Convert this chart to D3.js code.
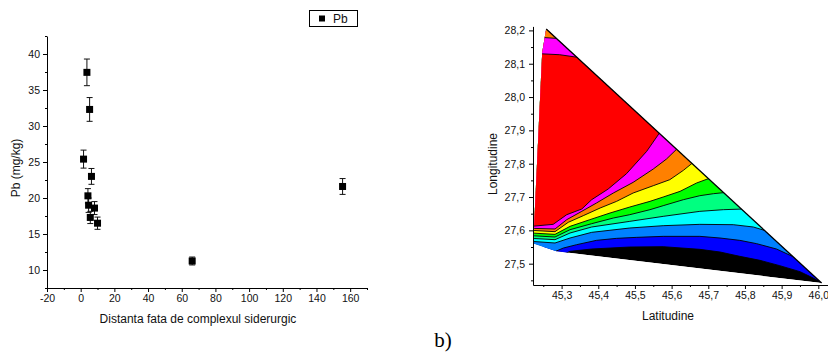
<!DOCTYPE html>
<html><head><meta charset="utf-8">
<script src="https://cdn.jsdelivr.net/npm/d3@7"></script>
<style>
body{margin:0;background:#fff;}
svg{display:block;font-family:"Liberation Sans",Arial,sans-serif;}
</style></head><body>
<svg id="c" width="828" height="354"></svg>
<script>
// ---- Panel a: Pb content vs. distance from the steelworks ----
const distance = [3.7, 5.3, 1.7, 6.4, 4.3, 4.7, 8.2, 5.7, 10.0, 66.2, 155.5];
const pb       = [37.45, 32.3, 25.4, 23.0, 20.3, 19.0, 18.6, 17.3, 16.5, 11.25, 21.6];
const pbErr    = [1.85, 1.65, 1.25, 1.1, 1.0, 1.0, 0.9, 0.85, 0.85, 0.55, 1.1];
const pbXTicks = [-20, 0, 20, 40, 60, 80, 100, 120, 140, 160];
const pbYTicks = [10, 15, 20, 25, 30, 35, 40];

// ---- Panel b: interpolated map, sampled area and isoline boundaries [lat, lon] ----
const hull = [[45.258, 28.204], [45.247, 28.132], [45.225, 27.612], [45.225, 27.560],
              [45.286, 27.537], [46.009, 27.442]];
const lineBlueBlack = [[45.309, 27.530], [45.323, 27.537], [45.382, 27.544], [45.486, 27.550], [45.577, 27.551],
  [45.677, 27.543], [45.732, 27.535], [45.786, 27.522], [45.841, 27.510], [45.895, 27.494], [45.950, 27.476],
  [45.986, 27.457], [46.014, 27.439]];
const lineAzureBlue = [[45.277, 27.534], [45.305, 27.547], [45.341, 27.557], [45.395, 27.570], [45.450, 27.576],
  [45.505, 27.579], [45.577, 27.582], [45.677, 27.582], [45.732, 27.577], [45.786, 27.570], [45.832, 27.560],
  [45.886, 27.544], [45.941, 27.516]];
const lineCyanAzure = [[45.218, 27.567], [45.282, 27.562], [45.323, 27.577], [45.382, 27.594], [45.486, 27.607],
  [45.577, 27.614], [45.677, 27.618], [45.768, 27.617], [45.823, 27.610], [45.859, 27.598]];
const lineSpringCyan = [[45.218, 27.576], [45.282, 27.572], [45.323, 27.592], [45.382, 27.610], [45.486, 27.627],
  [45.577, 27.642], [45.677, 27.657], [45.741, 27.662], [45.795, 27.664]];
const lineGreenSpring = [[45.218, 27.584], [45.282, 27.580], [45.323, 27.602], [45.382, 27.620], [45.441, 27.637],
  [45.486, 27.647], [45.541, 27.662], [45.577, 27.674], [45.632, 27.692], [45.677, 27.704], [45.714, 27.710],
  [45.750, 27.714]];
const lineYellowGreen = [[45.218, 27.592], [45.282, 27.588], [45.323, 27.612], [45.377, 27.632], [45.432, 27.652],
  [45.486, 27.670], [45.541, 27.687], [45.577, 27.700], [45.623, 27.717], [45.668, 27.742], [45.705, 27.757]];
const lineOrangeYellow = [[45.218, 27.600], [45.282, 27.596], [45.318, 27.624], [45.359, 27.644], [45.405, 27.667],
  [45.450, 27.687], [45.495, 27.712], [45.550, 27.734], [45.595, 27.752], [45.632, 27.780], [45.659, 27.804]];
const lineMagentaOrange = [[45.218, 27.606], [45.282, 27.604], [45.314, 27.632], [45.355, 27.657], [45.395, 27.682],
  [45.441, 27.712], [45.495, 27.744], [45.550, 27.784], [45.586, 27.814], [45.618, 27.848]];
const lineRedMagenta = [[45.218, 27.612], [45.277, 27.618], [45.314, 27.647], [45.355, 27.664], [45.382, 27.692],
  [45.427, 27.724], [45.477, 27.770], [45.532, 27.837], [45.568, 27.894]];
const lineTopMagenta = [[45.241, 28.130], [45.295, 28.127], [45.345, 28.119]];
const lineTopOrange = [[45.245, 28.179], [45.288, 28.176]];

const baseColor = "#000000";
const isolines = [lineBlueBlack, lineAzureBlue, lineCyanAzure, lineSpringCyan, lineGreenSpring,
  lineYellowGreen, lineOrangeYellow, lineMagentaOrange, lineRedMagenta, lineTopMagenta, lineTopOrange];
// colour of the band lying above each isoline
const bandColors = ["#0000FF", "#0080FF", "#00FFFF", "#00FF80", "#00FF00",
  "#FFFF00", "#FF8000", "#FF00FF", "#FF0000", "#FF00FF", "#FF8000"];
const latTicks = [45.3, 45.4, 45.5, 45.6, 45.7, 45.8, 45.9, 46.0];
const lonTicks = [27.5, 27.6, 27.7, 27.8, 27.9, 28.0, 28.1, 28.2];

const svg = d3.select("#c");

function styleAxis(g, size) {
  g.attr("font-size", null).attr("font-family", null);
  g.selectAll("path.domain").attr("stroke", "#000").attr("stroke-width", 1);
  g.selectAll(".tick line").attr("stroke", "#000");
  g.selectAll("text").attr("font-size", size).attr("fill", "#111");
}

// ================= Panel a =================
const x1 = d3.scaleLinear().domain([-20, 170]).range([47, 367]);
const y1 = d3.scaleLinear().domain([7.5, 42.5]).range([288, 36]);
const plain = d => String(d);

const ax1 = svg.append("g").attr("transform", "translate(0,288)")
  .call(d3.axisBottom(x1).tickValues(pbXTicks).tickSize(4).tickSizeOuter(0).tickPadding(3).tickFormat(plain));
styleAxis(ax1, 10.5);
const ax1m = svg.append("g").attr("transform", "translate(0,288)")
  .call(d3.axisBottom(x1).tickValues(d3.range(-10, 171, 20)).tickSize(2).tickFormat(""));
ax1m.select("path.domain").remove();
ax1m.selectAll(".tick line").attr("stroke", "#000");

const ay1 = svg.append("g").attr("transform", "translate(47,0)")
  .call(d3.axisLeft(y1).tickValues(pbYTicks).tickSize(4).tickSizeOuter(0).tickPadding(3).tickFormat(plain));
styleAxis(ay1, 10.5);
const ay1m = svg.append("g").attr("transform", "translate(47,0)")
  .call(d3.axisLeft(y1).tickValues(d3.range(7.5, 42.6, 5)).tickSize(2).tickFormat(""));
ay1m.select("path.domain").remove();
ay1m.selectAll(".tick line").attr("stroke", "#000");

svg.append("text").attr("x", 198).attr("y", 323).attr("text-anchor", "middle")
  .attr("font-size", 12).attr("fill", "#111").text("Distanta fata de complexul siderurgic");
svg.append("text").attr("transform", "translate(20,168) rotate(-90)").attr("text-anchor", "middle")
  .attr("font-size", 12).attr("fill", "#111").text("Pb (mg/kg)");

const pts = d3.range(distance.length);
const eb = svg.append("g").attr("stroke", "#111").attr("stroke-width", 1);
eb.selectAll("line.v").data(pts).join("line").attr("class", "v")
  .attr("x1", i => x1(distance[i])).attr("x2", i => x1(distance[i]))
  .attr("y1", i => y1(pb[i] - pbErr[i])).attr("y2", i => y1(pb[i] + pbErr[i]));
eb.selectAll("line.t").data(pts).join("line").attr("class", "t")
  .attr("x1", i => x1(distance[i]) - 3).attr("x2", i => x1(distance[i]) + 3)
  .attr("y1", i => y1(pb[i] + pbErr[i])).attr("y2", i => y1(pb[i] + pbErr[i]));
eb.selectAll("line.b").data(pts).join("line").attr("class", "b")
  .attr("x1", i => x1(distance[i]) - 3).attr("x2", i => x1(distance[i]) + 3)
  .attr("y1", i => y1(pb[i] - pbErr[i])).attr("y2", i => y1(pb[i] - pbErr[i]));
svg.append("g").selectAll("rect").data(pts).join("rect")
  .attr("x", i => x1(distance[i]) - 3.5).attr("y", i => y1(pb[i]) - 3.5)
  .attr("width", 7).attr("height", 7).attr("fill", "#000");

// legend
const lg = svg.append("g");
lg.append("rect").attr("x", 309.5).attr("y", 10.5).attr("width", 48).attr("height", 16)
  .attr("fill", "#fff").attr("stroke", "#000");
lg.append("rect").attr("x", 319).attr("y", 15.5).attr("width", 6).attr("height", 6).attr("fill", "#000");
lg.append("text").attr("x", 333).attr("y", 23).attr("font-size", 12).attr("fill", "#111").text("Pb");

// ================= Panel b =================
const x2 = d3.scaleLinear().domain([45.222, 46.03]).range([533, 829.3]);
const y2 = d3.scaleLinear().domain([27.436, 28.212]).range([285, 26.4]);
const pathOf = d3.line().x(d => x2(d[0])).y(d => y2(d[1]));

svg.append("clipPath").attr("id", "hullClip").append("path").attr("d", pathOf(hull) + "Z");
const map = svg.append("g").attr("clip-path", "url(#hullClip)");
map.append("path").attr("d", pathOf(hull) + "Z").attr("fill", baseColor);

// each band = region of the hull above its isoline
isolines.forEach((ln, i) => {
  const first = ln[0], last = ln[ln.length - 1];
  const poly = [[first[0] - 0.06, first[1]], ...ln, [last[0] + 0.06, last[1]],
                [last[0] + 0.06, 28.35], [first[0] - 0.06, 28.35]];
  map.append("path").attr("d", pathOf(poly) + "Z").attr("fill", bandColors[i]);
});
isolines.forEach(ln => {
  map.append("path").attr("d", pathOf(ln)).attr("fill", "none")
    .attr("stroke", "#000").attr("stroke-width", 0.9);
});
svg.append("path").attr("d", pathOf([hull[0], hull[hull.length - 1]]))
  .attr("stroke", "#000").attr("stroke-width", 1.3).attr("fill", "none");

const comma = d => d3.format(".1f")(d).replace(".", ",");
const ax2 = svg.append("g").attr("transform", "translate(0,285)")
  .call(d3.axisBottom(x2).tickValues(latTicks).tickSize(4).tickSizeOuter(0).tickPadding(3).tickFormat(comma));
styleAxis(ax2, 10.5);
const ax2m = svg.append("g").attr("transform", "translate(0,285)")
  .call(d3.axisBottom(x2).tickValues([45.25, 45.35, 45.45, 45.55, 45.65, 45.75, 45.85, 45.95]).tickSize(2).tickFormat(""));
ax2m.select("path.domain").remove();
ax2m.selectAll(".tick line").attr("stroke", "#000");

const ay2 = svg.append("g").attr("transform", "translate(533,0)")
  .call(d3.axisLeft(y2).tickValues(lonTicks).tickSize(4).tickSizeOuter(0).tickPadding(4).tickFormat(comma));
styleAxis(ay2, 10.5);
const ay2m = svg.append("g").attr("transform", "translate(533,0)")
  .call(d3.axisLeft(y2).tickValues([27.45, 27.55, 27.65, 27.75, 27.85, 27.95, 28.05, 28.15]).tickSize(2).tickFormat(""));
ay2m.select("path.domain").remove();
ay2m.selectAll(".tick line").attr("stroke", "#000");

svg.append("text").attr("x", 668).attr("y", 320).attr("text-anchor", "middle")
  .attr("font-size", 12).attr("fill", "#111").text("Latitudine");
svg.append("text").attr("transform", "translate(497,164) rotate(-90)").attr("text-anchor", "middle")
  .attr("font-size", 12).attr("fill", "#111").text("Longitudine");

svg.append("text").attr("x", 443).attr("y", 347).attr("text-anchor", "middle")
  .attr("font-family", "'Liberation Serif','Times New Roman',serif").attr("font-size", 21)
  .attr("fill", "#000").text("b)");
</script>
</body></html>
